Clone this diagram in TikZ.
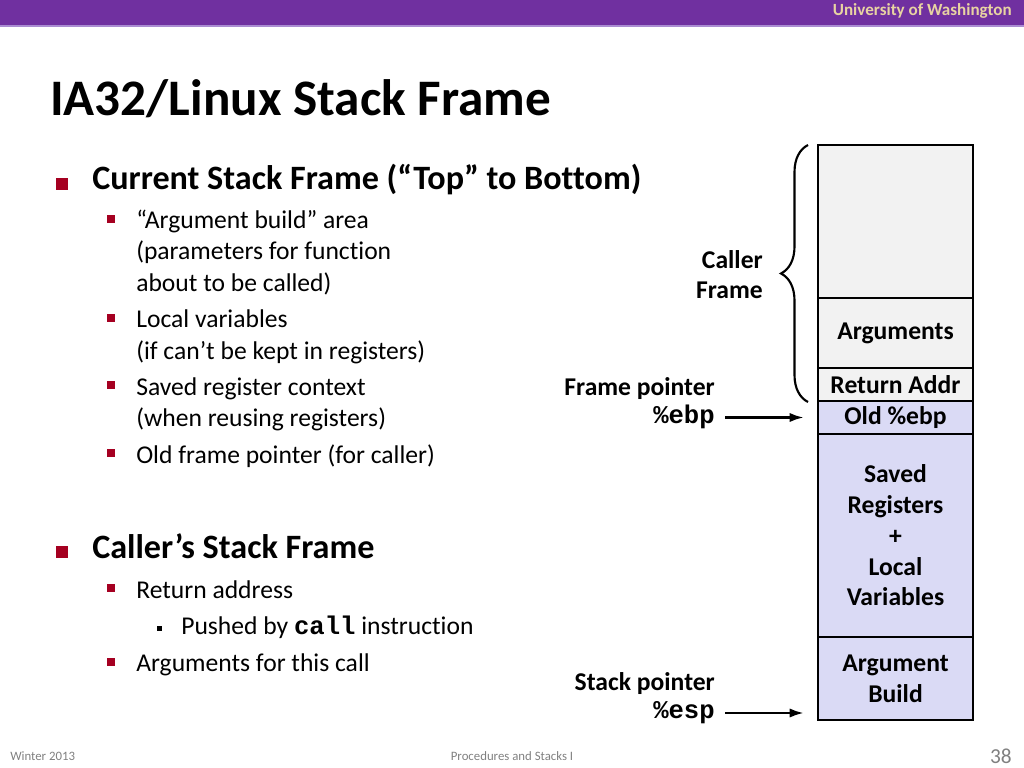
\documentclass[tikz,border=0pt]{standalone}
\usepackage{fontspec}
\setmainfont{Carlito}[Ligatures={NoCommon}]
\setmonofont{Liberation Mono}
\usepackage{tikz}
\usetikzlibrary{positioning}
\usetikzlibrary{decorations.pathreplacing}
\usetikzlibrary{arrows.meta}
\tikzset{>=stealth}
\definecolor{uwpurple}{RGB}{112,48,160}
\definecolor{uwlilac}{RGB}{170,140,210}
\definecolor{uwgold}{RGB}{232,211,162}
\definecolor{bulred}{RGB}{165,0,33}
\definecolor{cellgray}{RGB}{242,242,242}
\definecolor{cellblue}{RGB}{218,218,245}
\definecolor{footgray}{RGB}{128,128,128}
\def\px{0.703125pt}

\begin{document}
\begin{tikzpicture}[x=0.703125pt, y=-0.703125pt,
		head/.style={font=\fontsize{24}{29}\selectfont\bfseries, anchor=base west, inner sep=0},
		sub/.style={font=\fontsize{18}{22}\selectfont, anchor=base west, inner sep=0},
		bigsq/.style={fill=bulred, minimum size={12*\px}, inner sep=0},
		smallsq/.style={fill=bulred, minimum size={8*\px}, inner sep=0},
		tinysq/.style={fill=black, minimum size={5*\px}, inner sep=0},
		cell/.style={draw, line width=1.5pt, minimum width={155*\px}, inner sep=0,
			align=center, font=\fontsize{18}{21.6}\selectfont\bfseries},
		ptr/.style={font=\fontsize{18}{21.6}\selectfont\bfseries, anchor=base east, inner sep=0},
		reg/.style={font=\fontsize{18}{21.6}\selectfont\ttfamily\bfseries, anchor=base east, inner sep=0},
		link/.style={draw, line width=1.8pt, -{Latex[length=10pt,width=6.5pt]}}]
		\useasboundingbox (0,0) rectangle (1024,768);
		%% Banner
		\fill [uwpurple] (0,0) rectangle (1024,25);
		\fill [uwlilac] (0,25) rectangle (1024,27);
		\node [anchor=base east, inner sep=0, text=uwgold, font=\fontsize{12}{14}\selectfont\bfseries] (uw) at (1012,16) {University of Washington};
		\node [anchor=base west, inner sep=0, font=\fontsize{36}{43}\selectfont\bfseries] (title) at (50,116) {IA32/Linux Stack Frame};
		%% Bullets
		\node [bigsq] (b1) at (62,184) {};
		\node [head] (cur) at (92,190) {Current Stack Frame (“Top” to Bottom)};
		\node [smallsq] (b11) at (110.5,219) {};
		\node [sub] (argb1) at (136,229) {“Argument build” area};
		\node [sub] (argb2) at (136,260) {(parameters for function};
		\node [sub] (argb3) at (136,291) {about to be called)};
		\node [smallsq] (b12) at (110.5,318) {};
		\node [sub] (loc1) at (136,328) {Local variables};
		\node [sub] (loc2) at (136,359) {(if can’t be kept in registers)};
		\node [smallsq] (b13) at (110.5,385) {};
		\node [sub] (sav1) at (136,395) {Saved register context};
		\node [sub] (sav2) at (136,426) {(when reusing registers)};
		\node [smallsq] (b14) at (110.5,453) {};
		\node [sub] (old1) at (136,463) {Old frame pointer (for caller)};
		\node [bigsq] (b2) at (62,552) {};
		\node [head] (clr) at (92,558) {Caller’s Stack Frame};
		\node [smallsq] (b21) at (110.5,588) {};
		\node [sub] (ret1) at (136,598) {Return address};
		\node [tinysq] (b211) at (159,628) {};
		\node [sub] (push1) at (181,634) {Pushed by \texttt{\bfseries call} instruction};
		\node [smallsq] (b22) at (110.5,662) {};
		\node [sub] (this1) at (136,671) {Arguments for this call};
		%% Stack
		\node [cell, fill=cellgray, minimum height={153*\px}] (callerbox) at (895.5,221.5) {};
		\node [cell, fill=cellgray, minimum height={70*\px}] (args) at (895.5,333) {Arguments};
		\node [cell, fill=cellgray, minimum height={33*\px}] (retaddr) at (895.5,384.5) {Return Addr};
		\node [cell, fill=cellblue, minimum height={33*\px}] (oldebp) at (895.5,417.5) {Old \%ebp};
		\node [cell, fill=cellblue, minimum height={203*\px}] (saved) at (895.5,535.5) {Saved\\Registers\\+\\Local\\Variables};
		\node [cell, fill=cellblue, minimum height={83*\px}] (build) at (895.5,678.5) {Argument\\Build};
		%% Labels
		\coordinate (brbot) at (808,402);
		\coordinate (brtop) at (808,145);
		\draw [line width=1.5pt, decorate, decoration={brace, amplitude={27*\px}}] (brbot) -- (brtop);
		\node [anchor=east, align=right, inner sep=0, font=\fontsize{18}{21.6}\selectfont\bfseries] (callerlbl) at (763,274.5) {Caller\\Frame};
		\node [ptr] (fp) at (715,395) {Frame pointer};
		\node [reg] (ebp) at (715,423) {\%ebp};
		\node [ptr] (sp) at (715,690) {Stack pointer};
		\node [reg] (esp) at (715,718) {\%esp};
		%% Links
		\draw [link, shorten <={10*\px}, shorten >={13*\px}] (ebp.east |- oldebp.west) -- (oldebp.west);
		\coordinate (esptip) at (build.west |- 0,713);
		\draw [link, shorten <={10*\px}, shorten >={13*\px}] (ebp.east |- esptip) -- (esptip);
		%% Footer
		\node [anchor=base west, inner sep=0, text=footgray, font=\fontsize{9}{11}\selectfont] (season) at (10,760) {Winter 2013};
		\node [anchor=base, inner sep=0, text=footgray, font=\fontsize{9}{11}\selectfont] (course) at (512,760) {Procedures and Stacks I};
		\node [anchor=base east, inner sep=0, text=footgray, font=\fontsize{15}{18}\selectfont] (page) at (1012,763) {38};
\end{tikzpicture}
\end{document}
